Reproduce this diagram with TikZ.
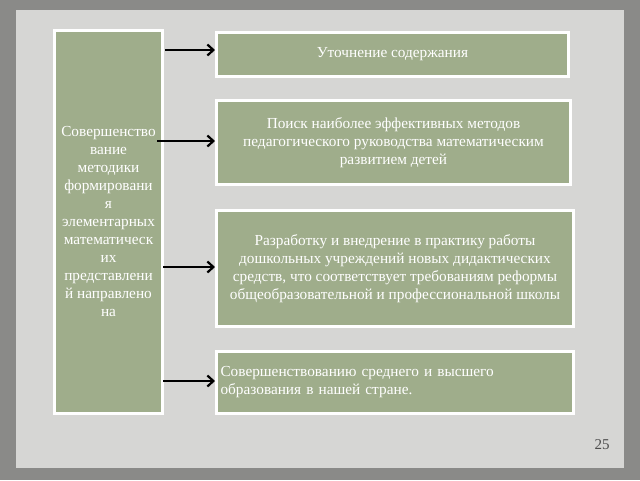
\documentclass[tikz,border=0pt]{standalone}
\usepackage{fontspec}
\setmainfont{Liberation Serif}
\usetikzlibrary{arrows.meta}
\definecolor{boxg}{HTML}{9FAD8B}
\definecolor{frameg}{HTML}{8A8A88}
\definecolor{paneg}{HTML}{D6D6D4}
\tikzset{x=1pt,y=-1pt,
 gbox/.style={draw=white,line width=3pt,fill=boxg,text=white,font=\fontsize{15.3}{18}\selectfont,align=center,inner sep=3pt},
 arr/.style={-{Straight Barb[length=6pt,width=11pt]},line width=2.2pt,black}}
\begin{document}
\begin{tikzpicture}
\fill[frameg] (0,0) rectangle (640,480);
\fill[paneg] (16,10) rectangle (624,468);
\useasboundingbox (0,0) rectangle (640,480);
\node[gbox,minimum width=108pt,minimum height=383pt,anchor=north west] (L) at (53,29) {Совершенство\\вание\\методики\\формировани\\я\\элементарных\\математическ\\их\\представлени\\й направлено\\на};
\node[gbox,minimum width=352pt,minimum height=44pt,anchor=north west] (b1) at (215,31) {Уточнение содержания};
\node[gbox,minimum width=354pt,minimum height=84pt,anchor=north west] (b2) at (215,99) {Поиск наиболее эффективных методов\\педагогического руководства математическим\\развитием детей};
\node[gbox,minimum width=357pt,minimum height=116pt,anchor=north west] (b3) at (215,209) {Разработку и внедрение в практику работы\\дошкольных учреждений новых дидактических\\средств, что соответствует требованиям реформы\\общеобразовательной и профессиональной школы};
\node[gbox,minimum width=357pt,minimum height=62pt,text width=349pt,align=left,anchor=north west] (b4) at (215,350) {Совершенствованию среднего и высшего\\образования в нашей стране.};
\coordinate (a1) at (165,50);\coordinate (a2) at (157,141);\coordinate (a3) at (163,267);\coordinate (a4) at (163,381);
\draw[arr] (a1) -- (a1 -| b1.west);
\draw[arr] (a2) -- (a2 -| b2.west);
\draw[arr] (a3) -- (a3 -| b3.west);
\draw[arr] (a4) -- (a4 -| b4.west);
\node[font=\fontsize{15}{17}\selectfont,text=gray!60!black] (pg) at (602,445) {25};
\end{tikzpicture}
\end{document}
